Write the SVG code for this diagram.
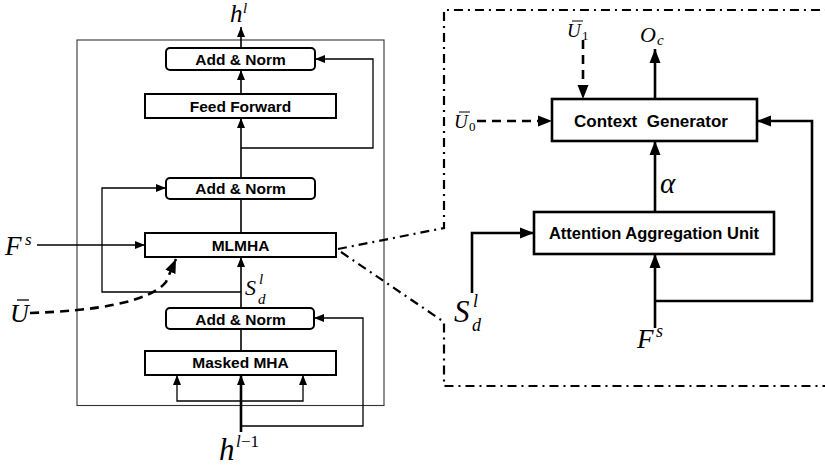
<svg xmlns="http://www.w3.org/2000/svg" width="825" height="471" viewBox="0 0 825 471">
<defs>
<marker id="a" markerUnits="userSpaceOnUse" markerWidth="10" markerHeight="10" viewBox="0 0 10 10" refX="10" refY="5" orient="auto"><path d="M0,1 L10,5 L0,9 Z" fill="#000"/></marker>
<marker id="b" markerUnits="userSpaceOnUse" markerWidth="14" markerHeight="14" viewBox="0 0 14 14" refX="14" refY="7" orient="auto"><path d="M0,1.5 L14,7 L0,12.5 Z" fill="#000"/></marker>
</defs>
<style>
.box{fill:#fff;stroke:#000;stroke-width:2}
.rbox{fill:#fff;stroke:#000;stroke-width:2.6}
.t{font-family:"Liberation Sans",Arial,sans-serif;font-weight:bold;font-size:15.5px;text-anchor:middle;fill:#000}
.rt{font-family:"Liberation Sans",Arial,sans-serif;font-weight:bold;font-size:16.5px;text-anchor:middle;fill:#000;white-space:pre}
.m{font-family:"Liberation Serif","DejaVu Serif",serif;font-style:italic;fill:#000}
.n{font-family:"Liberation Serif","DejaVu Serif",serif;font-style:normal;fill:#000}
.l{fill:none;stroke:#000;stroke-width:1.6}
.lt{fill:none;stroke:#000;stroke-width:1.3}
.rl{fill:none;stroke:#000;stroke-width:2.6}
.d{fill:none;stroke:#000;stroke-width:2.6;stroke-dasharray:9 6}
.dd{fill:none;stroke:#000;stroke-width:2.2;stroke-dasharray:9 5 2 5}
</style>
<rect x="77" y="40" width="307" height="365.5" fill="none" stroke="#333" stroke-width="1.1"/>
<g id="connectors">
<path class="l" d="M241,48 V27" marker-end="url(#a)"/>
<path class="l" d="M241,94 V70" marker-end="url(#a)"/>
<path class="l" d="M241,178 V118" marker-end="url(#a)"/>
<path class="lt" d="M241,148 H373 V59 H315" marker-end="url(#a)"/>
<path class="l" d="M241,233 V199"/>
<path class="lt" d="M241,292 H102 V188 H166" marker-end="url(#a)"/>
<path class="lt" d="M37,245 H145" marker-end="url(#a)"/>
<path class="l" d="M241,308 V257" marker-end="url(#a)"/>
<path class="l" d="M241,351 V329"/>
<path fill="none" stroke="#000" stroke-width="2.6" d="M241,432 V375" marker-end="url(#a)"/>
<path class="lt" d="M241,401 H177 V375" marker-end="url(#a)"/>
<path class="lt" d="M241,401 H303 V375" marker-end="url(#a)"/>
<path class="lt" d="M241,426 H363 V318 H314" marker-end="url(#a)"/>
<path fill="none" stroke="#000" stroke-width="2.6" stroke-dasharray="9 6" d="M30,313 C95,311 150,302 166,282 L176,259" marker-end="url(#b)"/>
<path class="dd" d="M338,249 L444,228 L444,10 L830,10"/>
<path class="dd" d="M341,252 L444,322 L444,386 L830,386"/>
<path class="d" d="M583,40 V99" marker-end="url(#b)"/>
<path class="rl" d="M655,99 V49" marker-end="url(#b)"/>
<path class="d" d="M477,121 H552" marker-end="url(#b)"/>
<path class="rl" d="M655,212 V141" marker-end="url(#b)"/>
<path class="rl" d="M472,293 V233 H534" marker-end="url(#b)"/>
<path class="rl" d="M655,328 V254" marker-end="url(#b)"/>
<path class="rl" d="M655,301 H812 V121 H757" marker-end="url(#b)"/>
</g>
<g id="addnorm1"><rect class="box" x="166" y="48" width="149" height="22" rx="4"/><text class="t" x="240.5" y="64.5">Add &amp; Norm</text></g>
<g id="feedforward"><rect class="box" x="145" y="94" width="191" height="24"/><text class="t" x="240.5" y="111.5">Feed Forward</text></g>
<g id="addnorm2"><rect class="box" x="166" y="178" width="149" height="21" rx="4"/><text class="t" x="240.5" y="194">Add &amp; Norm</text></g>
<g id="mlmha"><rect class="box" x="145" y="233" width="191" height="24"/><text class="t" x="240.5" y="250.5">MLMHA</text></g>
<g id="addnorm3"><rect class="box" x="166" y="308" width="148" height="21" rx="4"/><text class="t" x="240.5" y="324.5">Add &amp; Norm</text></g>
<g id="maskedmha"><rect class="box" x="145" y="351" width="191" height="24"/><text class="t" x="240.5" y="368">Masked MHA</text></g>
<g id="contextgen"><rect class="rbox" x="552" y="99" width="205" height="42"/><text class="rt" x="651" y="126.5" style="font-size:17px">Context  Generator</text></g>
<g id="aau"><rect class="rbox" x="534" y="212" width="240" height="42"/><text class="rt" x="654" y="239">Attention Aggregation Unit</text></g>
<g id="labels">
<text class="m" x="230" y="22" font-size="25">h</text>
<text class="m" x="243" y="13" font-size="15">l</text>
<text class="m" x="219" y="460" font-size="31">h</text>
<text class="m" x="236" y="447" font-size="17">l</text>
<text class="n" x="241" y="447" font-size="17">−1</text>
<text class="m" x="5" y="255" font-size="27">F</text>
<text class="m" x="25" y="245" font-size="17">s</text>
<text class="m" x="10" y="322" font-size="26">U</text>
<path d="M17,300 H29" stroke="#000" stroke-width="1.3"/>
<text class="m" x="245" y="295" font-size="22">S</text>
<text class="m" x="259" y="284" font-size="15">l</text>
<text class="m" x="258" y="304" font-size="15">d</text>
<text class="m" x="567" y="37" font-size="19">U</text>
<path d="M572,21 H583" stroke="#000" stroke-width="1"/>
<text class="n" x="582" y="40" font-size="13">1</text>
<text class="m" x="454" y="128" font-size="19">U</text>
<path d="M459,112 H470" stroke="#000" stroke-width="1"/>
<text class="n" x="469" y="131" font-size="13">0</text>
<text class="m" x="640" y="42" font-size="22">O</text>
<text class="m" x="657" y="45" font-size="15">c</text>
<text class="m" x="660" y="193" font-size="29">α</text>
<text class="m" x="454" y="322" font-size="31">S</text>
<text class="m" x="473" y="307" font-size="18">l</text>
<text class="m" x="472" y="331" font-size="18">d</text>
<text class="m" x="637" y="348" font-size="27">F</text>
<text class="m" x="656" y="337" font-size="18">s</text>
</g>
</svg>
